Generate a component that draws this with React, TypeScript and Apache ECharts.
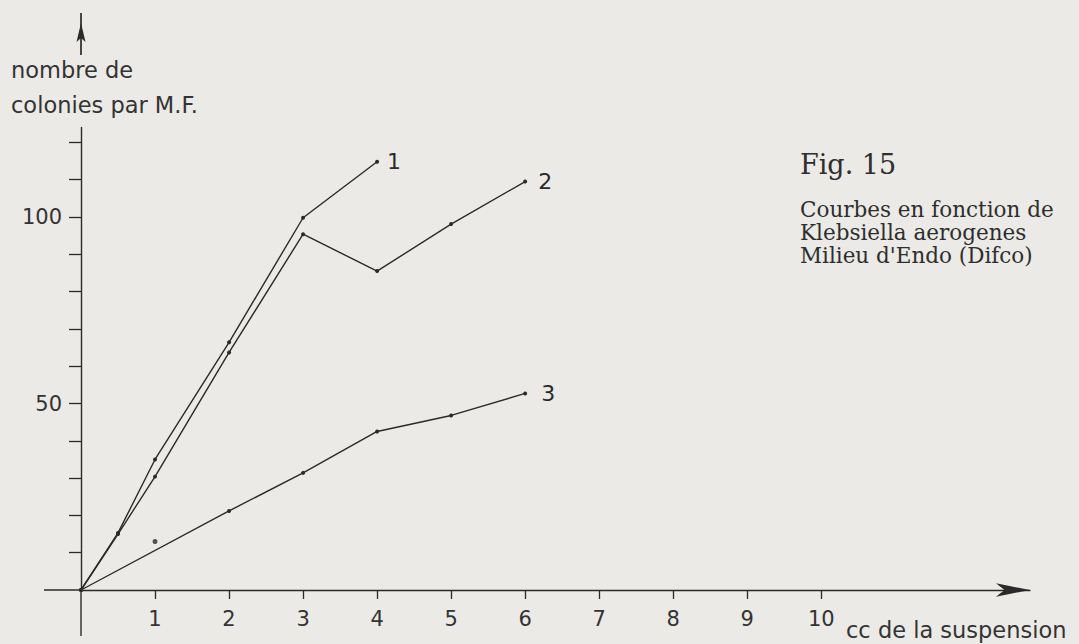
import React, { useEffect, useRef } from "react";
import * as echarts from "echarts";

// ---- data ----
const xTickValues = [1, 2, 3, 4, 5, 6, 7, 8, 9, 10];
const yTickValues = [10, 20, 30, 40, 50, 60, 70, 80, 90, 100, 110, 120];
const yLabelValues = [50, 100];

const curve1 = [[0, 0], [0.5, 15.3], [1, 35], [2, 66.4], [3, 99.8], [4, 114.8]];
const curve2 = [[0, 0], [0.5, 15], [1, 30.4], [2, 63.7], [3, 95.4], [4, 85.5], [5, 98.1], [6, 109.5]];
const curve3 = [[0, 0], [2, 21.2], [3, 31.4], [4, 42.5], [5, 46.8], [6, 52.7]];
const curve3Stray = [[1, 13]];
const curveNames = ["1", "2", "3"];

const yTitleLines = ["nombre de", "colonies par M.F."];
const xTitle = "cc de la suspension";
const figTitle = "Fig. 15";
const captionLines = ["Courbes en fonction de", "Klebsiella aerogenes", "Milieu d'Endo (Difco)"];

const INK = "#2a2a2a";
const SANS = "DejaVu Sans";
const SERIF = "DejaVu Serif";

// layout (pixels)
const OX = 81;
const OY = 590;

export default function App() {
  const ref = useRef<HTMLDivElement>(null);
  useEffect(() => {
    if (!ref.current) return;
    const chart = echarts.init(ref.current, undefined, { renderer: "svg" });
    const lineSeries = (name: string, data: number[][], dist: number) => ({
      type: "line",
      name,
      data,
      symbol: "circle",
      symbolSize: 4,
      lineStyle: { color: INK, width: 1.4 },
      itemStyle: { color: INK },
      endLabel: {
        show: true,
        formatter: () => name,
        distance: dist,
        fontFamily: SANS,
        fontSize: 22,
        color: INK,
      },
      z: 3,
    });
    chart.setOption({
      animation: false,
      backgroundColor: "#ebeae6",
      grid: {
        left: OX,
        right: 49,
        top: 127.5,
        bottom: 644 - OY,
        containLabel: false,
        outerBoundsMode: "none",
      },
      xAxis: {
        type: "value",
        min: 0,
        max: 12.82,
        axisLine: {
          show: true,
          symbol: ["none", "arrow"],
          symbolSize: [10, 34],
          lineStyle: { color: INK, width: 1.4 },
        },
        axisTick: {
          show: true,
          customValues: xTickValues,
          length: 9,
          inside: false,
          lineStyle: { color: INK, width: 1.3 },
        },
        axisLabel: {
          customValues: xTickValues,
          margin: 18,
          fontSize: 21,
          fontFamily: SANS,
          color: "#333",
        },
        splitLine: { show: false },
      },
      yAxis: {
        type: "value",
        min: 0,
        max: 124,
        axisLine: { show: true, lineStyle: { color: INK, width: 1.4 } },
        axisTick: {
          show: true,
          customValues: yTickValues,
          length: 12,
          inside: false,
          lineStyle: { color: INK, width: 1.3 },
        },
        axisLabel: {
          customValues: yLabelValues,
          margin: 19,
          fontSize: 21,
          fontFamily: SANS,
          color: "#333",
        },
        splitLine: { show: false },
      },
      series: [
        lineSeries(curveNames[0], curve1, 10),
        lineSeries(curveNames[1], curve2, 13),
        lineSeries(curveNames[2], curve3, 16),
        {
          type: "scatter",
          name: "3 (point isolé)",
          data: curve3Stray,
          symbol: "circle",
          symbolSize: 5,
          itemStyle: { color: INK },
        },
      ],
      graphic: [
        // axis extensions past the origin
        { type: "line", shape: { x1: 44, y1: OY, x2: OX, y2: OY }, style: { stroke: INK, lineWidth: 1.4 } },
        { type: "line", shape: { x1: OX, y1: OY, x2: OX, y2: 636 }, style: { stroke: INK, lineWidth: 1.4 } },
        // detached arrow at the top of the y axis
        { type: "line", shape: { x1: OX, y1: 13, x2: OX, y2: 55 }, style: { stroke: INK, lineWidth: 1.7 } },
        {
          type: "polygon",
          shape: { points: [[OX, 23], [76.5, 42], [OX, 38], [85.5, 42]] },
          style: { fill: INK },
        },
        {
          type: "text",
          x: 11,
          y: 69.5,
          style: { text: yTitleLines[0], font: `22.5px "${SANS}"`, fill: "#333", verticalAlign: "middle" },
        },
        {
          type: "text",
          x: 11,
          y: 104.5,
          style: { text: yTitleLines[1], font: `22.5px "${SANS}"`, fill: "#333", verticalAlign: "middle" },
        },
        {
          type: "text",
          x: 846,
          y: 630,
          style: { text: xTitle, font: `22.5px "${SANS}"`, fill: "#333", verticalAlign: "middle" },
        },
        {
          type: "text",
          x: 800,
          y: 164,
          style: { text: figTitle, font: `27px "${SERIF}"`, fill: "#2e2e2e", verticalAlign: "middle" },
        },
        ...captionLines.map((t, i) => ({
          type: "text",
          x: 800,
          y: 209.5 + i * 23,
          style: { text: t, font: `21.5px "${SERIF}"`, fill: "#2e2e2e", verticalAlign: "middle" },
        })),
      ],
    });
    return () => chart.dispose();
  }, []);
  return (
    <div
      ref={ref}
      style={{ position: "fixed", left: 0, top: 0, width: 1079, height: 644 }}
    />
  );
}
